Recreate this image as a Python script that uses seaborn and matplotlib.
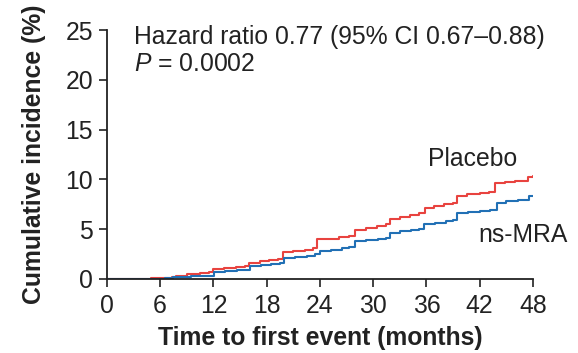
import numpy as np
import pandas as pd
import matplotlib
matplotlib.use('Agg')
import matplotlib.pyplot as plt
import seaborn as sns

# ---- data (months, cumulative incidence %) ----
placebo_t = [0, 3.6, 5.0, 6.3, 7.3, 7.8, 9.0, 10.5, 11.5, 12.0, 13.2, 14.5, 15.6, 16.0, 17.2,
             18.3, 19.3, 19.8, 21.0, 22.3, 23.2, 23.7, 25.0, 26.2, 27.3, 27.9, 29.2, 30.4,
             31.5, 31.9, 33.0, 34.2, 35.2, 35.8, 36.9, 38.0, 39.0, 39.4, 40.6, 42.0, 43.1,
             43.7, 44.8, 46.0, 46.9, 47.4, 48]
placebo_v = [0, 0.03, 0.06, 0.12, 0.2, 0.33, 0.45, 0.58, 0.67, 1.0, 1.1, 1.2, 1.28, 1.6, 1.75,
             1.9, 2.0, 2.65, 2.8, 2.95, 3.1, 3.96, 4.05, 4.18, 4.3, 4.95, 5.1, 5.3,
             5.47, 6.04, 6.25, 6.45, 6.58, 7.15, 7.35, 7.5, 7.65, 8.35, 8.5, 8.62, 8.75,
             9.6, 9.75, 9.82, 9.85, 10.2, 10.35]

mra_t = [0, 5.5, 6.5, 7.5, 8.0, 9.5, 11.0, 12.1, 13.3, 14.6, 15.7, 16.1, 17.4, 18.5, 19.5,
         19.9, 21.2, 22.5, 23.5, 24.0, 25.3, 26.5, 27.3, 27.9, 29.2, 30.5, 31.5, 31.9,
         33.0, 34.3, 35.2, 35.7, 37.0, 38.2, 39.0, 39.5, 40.7, 42.0, 43.2, 43.9, 45.0,
         46.3, 47.2, 47.6, 48]
mra_v = [0, 0.03, 0.08, 0.15, 0.22, 0.28, 0.33, 0.67, 0.75, 0.85, 0.94, 1.28, 1.4, 1.48, 1.55,
         2.1, 2.2, 2.3, 2.45, 2.78, 2.95, 3.1, 3.22, 3.79, 3.9, 4.0, 4.06, 4.63,
         4.8, 4.9, 4.96, 5.47, 5.65, 5.8, 5.87, 6.64, 6.75, 6.85, 6.91, 7.65, 7.8,
         7.88, 7.95, 8.3, 8.35]

x_ticks = [0, 6, 12, 18, 24, 30, 36, 42, 48]
y_ticks = [0, 5, 10, 15, 20, 25]

df = pd.concat([
    pd.DataFrame({'month': placebo_t, 'inc': placebo_v, 'arm': 'Placebo'}),
    pd.DataFrame({'month': mra_t, 'inc': mra_v, 'arm': 'ns-MRA'}),
])

#********* style *********
sns.set_style('ticks')
plt.rcParams['font.family'] = ['Liberation Sans', 'DejaVu Sans']
plt.rcParams['mathtext.fontset'] = 'custom'
plt.rcParams['mathtext.it'] = 'Liberation Sans:italic'
plt.rcParams['mathtext.rm'] = 'Liberation Sans'

fs = 17.8
ink = '#222222'

fig = plt.figure(figsize=(5.78, 3.53), dpi=100)
ax = fig.add_axes([0.185, 0.21, 0.737, 0.705])

sns.lineplot(data=df, x='month', y='inc', hue='arm',
             palette={'Placebo': '#E8433F', 'ns-MRA': '#2170B5'},
             estimator=None, sort=False, drawstyle='steps-post',
             linewidth=1.5, legend=False, ax=ax)

ax.set_xlim(0, 48)
ax.set_ylim(0, 25)
ax.set_xticks(x_ticks)
ax.set_yticks(y_ticks)
ax.tick_params(labelsize=fs, width=1.2, length=6, pad=4, color=ink, labelcolor=ink)
ax.tick_params(axis='x', pad=5)
for s in ['left', 'bottom']:
    ax.spines[s].set_linewidth(1.3)
    ax.spines[s].set_color(ink)
sns.despine(ax=ax)

ax.set_xlabel('Time to first event (months)', fontsize=fs, fontweight='bold', color=ink, labelpad=6)
ax.set_ylabel('Cumulative incidence (%)', fontsize=fs, fontweight='bold', color=ink, labelpad=14)

ax.text(3.1, 25.5, 'Hazard ratio 0.77 (95% CI 0.67\u20130.88)', fontsize=fs, va='top', color=ink)
ax.text(3.1, 22.8, '$P$ = 0.0002', fontsize=fs, va='top', color=ink)
ax.text(41.2, 12.0, 'Placebo', fontsize=fs, ha='center', va='center', color=ink)
ax.text(46.9, 4.4, 'ns-MRA', fontsize=fs, ha='center', va='center', color=ink, clip_on=False)

fig.savefig('out.png', dpi=100)
